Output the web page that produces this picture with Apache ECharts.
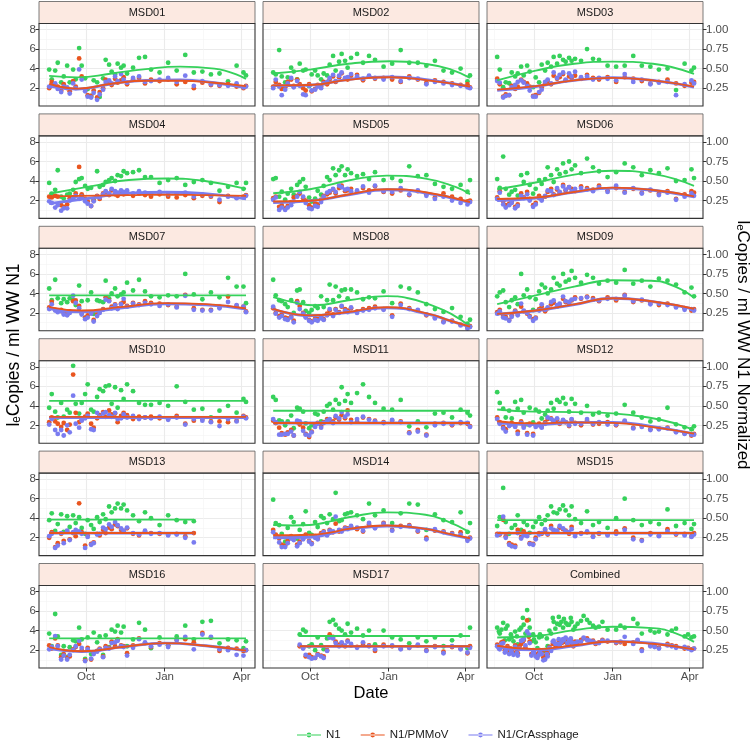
<!DOCTYPE html>
<html><head><meta charset="utf-8">
<script src="https://cdn.jsdelivr.net/npm/echarts@6/dist/echarts.min.js"></script>
<style>html,body{margin:0;padding:0;background:#fff}#c{width:756px;height:746px}</style>
</head><body><div id="c"></div><script>
// ---------------- DATA ----------------
const panelNames = ['MSD01','MSD02','MSD03','MSD04','MSD05','MSD06','MSD07','MSD08','MSD09','MSD10','MSD11','MSD12','MSD13','MSD14','MSD15','MSD16','MSD17','Combined'];
const seriesNames = ['N1','N1/PMMoV','N1/CrAssphage'];
// sample dates: days since 1 Oct 2020
const sampleDays = [-43,-40,-36,-33,-29,-26,-22,-19,-15,-12,-8,-5,-1,2,6,9,13,16,20,23,27,30,34,37,41,44,48,55,62,69,76,86,96,106,116,126,136,146,156,166,176,184,187];
const xTickDays = [0, 92, 182];
const xTickLabels = ['Oct','Jan','Apr'];
const xMinorDays = [-46, 46, 137];
const yTicks = [2,4,6,8];
const yMinorTicks = [1,3,5,7];
const y2Ticks = [0.25,0.5,0.75,1.0];

// N1 (log copies / ml)
const n1Values = [
[3.9,2.9,3.8,4.6,2.6,3.2,4.3,2.6,3.9,2.9,6.1,4.3,3.0,1.9,1.2,2.8,2.6,1.1,3.0,4.9,4.4,3.7,3.4,4.5,4.1,4.3,3.5,4.1,5.1,5.2,3.9,3.6,4.6,3.8,5.4,3.6,3.7,3.4,3.5,2.7,4.3,3.6,3.3],
[3.6,3.4,5.9,3.2,2.6,3.1,4.1,3.7,2.9,4.5,3.8,3.9,2.2,3.4,3.8,3.3,2.9,3.5,3.3,4.4,5.3,3.8,4.7,5.5,4.8,4.1,5.1,5.5,4.6,5.3,4.9,4.2,4.5,5.9,4.6,4.6,4.3,4.8,3.8,3.6,4.0,2.7,3.3],
[5.2,3.9,2.1,2.6,2.5,3.6,3.2,3.5,4.2,3.3,4.3,3.7,2.1,3.1,2.6,4.4,3.8,4.6,4.2,5.2,4.5,5.3,4.9,4.7,5.1,4.8,5.0,4.8,6.0,5.0,4.9,4.3,4.2,4.3,5.3,4.3,4.2,3.9,4.0,1.8,4.5,3.8,4.1],
[3.8,2.7,3.1,5.1,2.4,2.2,2.6,2.7,3.1,3.9,4.2,4.3,3.5,3.2,3.3,2.1,5.0,3.4,3.6,3.9,4.1,4.3,4.0,4.6,4.5,5.0,4.8,4.9,5.1,4.4,4.4,3.8,4.1,4.3,3.6,3.9,4.1,3.8,3.0,3.4,3.8,3.2,3.8],
[4.2,4.3,2.4,2.9,2.1,2.7,3.2,2.6,3.6,3.9,4.2,3.4,2.3,1.9,2.2,3.0,2.6,3.5,4.4,4.1,5.3,4.6,5.1,5.5,4.6,5.2,4.8,4.5,4.7,4.2,4.9,4.1,4.3,4.0,5.5,4.5,4.6,3.7,3.4,3.2,3.6,2.9,4.1],
[4.2,3.3,6.5,3.2,2.6,2.9,3.1,2.5,4.6,3.9,4.8,3.6,2.7,3.2,4.1,3.7,4.2,5.4,4.6,3.9,5.2,4.7,5.8,4.9,6.0,5.2,5.6,4.8,6.3,5.4,5.0,4.4,4.9,5.8,5.4,4.6,5.1,4.8,5.3,4.0,4.1,5.2,4.3],
[4.5,3.3,5.4,3.5,3.0,3.4,3.1,3.5,3.3,2.8,4.8,3.2,1.5,3.3,4.1,1.9,3.3,3.2,3.1,5.3,3.5,4.0,4.5,3.7,3.9,4.1,5.1,4.3,5.4,4.2,3.7,3.6,3.8,3.7,6.0,3.9,3.4,4.1,3.6,5.6,4.7,4.7,3.0],
[5.4,3.8,3.3,3.2,2.9,2.6,3.3,2.0,4.3,4.4,3.1,2.2,2.0,2.3,2.7,2.5,3.7,2.6,3.3,4.9,3.3,4.7,3.7,4.3,4.4,3.5,4.4,4.1,3.4,3.6,3.5,4.2,3.0,4.7,4.5,4.1,2.9,2.4,2.1,2.5,1.6,0.9,1.3],
[3.7,4.1,4.3,3.1,2.6,3.3,3.6,2.9,6.0,3.8,4.4,3.6,2.3,3.4,4.2,4.9,4.6,4.0,4.4,5.6,5.0,4.8,6.0,5.2,5.4,6.3,5.6,5.1,5.9,5.6,5.0,5.3,5.1,6.4,5.0,5.3,4.7,5.5,5.3,4.9,4.1,4.6,3.7],
[3.8,5.2,3.4,2.8,4.3,2.9,3.6,3.3,8.1,4.2,3.2,4.3,5.2,6.2,3.6,3.4,4.9,5.7,5.5,6.0,6.1,4.2,5.9,3.8,5.6,4.7,6.2,5.5,4.3,4.1,4.1,4.3,4.0,6.0,4.4,3.6,3.7,2.8,3.5,4.0,3.3,4.7,4.4],
[4.9,4.6,2.5,2.4,2.0,2.4,3.0,1.7,3.8,3.7,3.4,2.2,1.7,2.0,3.2,3.1,2.4,3.4,4.0,4.2,3.6,4.6,4.2,5.9,4.5,5.2,4.3,5.3,6.2,4.9,4.3,3.7,3.6,4.6,1.9,2.4,1.8,3.2,3.3,2.8,3.6,3.3,3.0],
[5.4,4.3,3.7,2.8,3.5,2.7,4.4,3.7,4.6,3.3,2.1,3.8,2.3,3.6,3.4,2.7,3.1,3.5,4.3,3.7,4.6,4.4,4.8,4.2,3.4,4.7,4.2,3.3,4.0,3.1,3.3,3.0,3.2,4.1,3.3,2.8,2.4,2.6,3.8,2.1,1.8,1.6,1.9],
[3.8,4.5,2.7,3.4,4.4,2.6,4.2,3.1,4.3,3.5,4.1,3.0,2.4,3.8,3.3,2.9,4.1,3.6,4.4,3.9,5.2,4.6,5.0,5.5,5.0,5.4,4.8,4.3,3.7,4.6,4.0,3.3,4.3,3.8,3.6,3.7,null,null,null,null,null,null,null],
[5.9,3.5,3.3,2.4,1.6,3.0,4.1,3.6,1.9,2.8,3.4,4.7,2.5,2.3,3.6,3.1,4.2,4.0,3.5,4.4,3.9,6.6,3.7,3.8,4.4,4.5,4.6,4.3,3.9,5.5,4.3,4.8,3.5,4.5,5.5,5.4,2.8,4.4,3.8,3.6,4.6,2.6,3.5],
[3.2,4.1,7.1,3.6,2.4,3.0,3.3,4.3,2.8,3.6,3.3,2.5,3.1,3.6,4.1,3.4,3.8,4.3,5.2,4.6,4.5,4.9,5.3,4.8,4.3,5.2,3.9,3.5,4.7,3.3,3.6,3.0,4.0,6.0,3.8,3.3,3.6,3.4,4.9,3.2,3.5,2.9,3.4],
[3.7,2.4,5.7,3.4,1.5,2.4,1.3,2.3,3.0,2.9,4.3,3.1,1.1,3.3,1.6,3.8,2.8,3.4,1.5,3.5,2.3,4.1,3.9,4.5,3.8,4.4,2.4,3.1,4.8,4.1,2.2,3.3,2.5,3.4,4.5,3.1,4.9,5.0,2.7,3.1,3.0,2.2,2.9],
[null,null,null,null,null,null,null,null,null,3.6,4.1,3.9,2.4,2.6,2.0,3.3,2.5,2.1,3.2,4.9,5.1,4.6,4.2,4.0,3.6,4.7,3.8,4.2,3.5,4.0,2.6,4.0,3.3,3.1,2.7,3.3,2.9,3.3,2.4,3.0,3.5,2.2,4.3],
[4.3,3.7,4.8,4.2,3.1,3.3,3.9,2.6,4.3,4.6,6.1,4.3,3.6,2.8,3.3,3.4,2.0,2.4,3.7,4.9,4.7,4.6,4.3,4.8,4.6,4.9,4.4,5.0,5.1,4.5,4.4,4.1,4.1,4.3,5.2,3.7,4.0,3.9,3.6,4.2,3.4,3.3,3.4]
];
// N1 / PMMoV (normalized, secondary axis)
const pmmovValues = [
[.25,.33,.29,.27,.22,.30,.25,.21,.34,.27,.63,.40,.23,.16,.15,.22,.13,.20,.25,.36,.33,.29,.37,.32,.35,.39,.30,.36,.38,.31,.36,.34,.36,.30,.33,.25,.32,.29,.28,.30,.27,.25,.28],
[.27,.33,.29,.24,.26,.33,.36,.28,.36,.30,.25,.22,.30,.21,.24,.29,.27,.33,.30,.36,.40,.33,.39,.44,.37,.36,.41,.42,.35,.40,.37,.38,.36,.33,.40,.36,.32,.35,.33,.31,.29,.30,.26],
[.37,.30,.14,.17,.16,.28,.24,.27,.36,.33,.31,.27,.15,.16,.19,.26,.31,.34,.30,.41,.37,.39,.43,.35,.40,.38,.41,.37,.42,.38,.36,.39,.33,.39,.37,.34,.31,.33,.36,.31,.28,.32,.33],
[.30,.29,.31,.30,.19,.17,.20,.28,.29,.34,.68,.33,.27,.24,.18,.25,.31,.27,.34,.36,.32,.38,.33,.31,.36,.33,.35,.31,.34,.32,.30,.33,.30,.29,.32,.28,.31,.30,.23,.31,.29,.30,.32],
[.28,.30,.17,.19,.15,.18,.23,.29,.31,.34,.28,.25,.19,.16,.21,.20,.26,.31,.33,.35,.39,.34,.41,.44,.37,.38,.40,.36,.41,.38,.43,.36,.34,.38,.32,.37,.33,.29,.34,.30,.27,.24,.25],
[.29,.37,.24,.19,.21,.23,.17,.20,.34,.29,.36,.27,.19,.22,.31,.27,.30,.36,.40,.33,.39,.35,.45,.38,.42,.40,.37,.43,.41,.39,.44,.38,.41,.36,.40,.35,.38,.34,.37,.27,.33,.37,.35],
[.32,.39,.29,.28,.29,.25,.23,.27,.40,.41,.34,.25,.19,.22,.25,.16,.23,.27,.30,.45,.41,.33,.36,.31,.37,.39,.34,.38,.36,.40,.38,.37,.35,.33,.48,.31,.29,.29,.33,.46,.34,.33,.27],
[.31,.25,.21,.23,.19,.18,.20,.15,.40,.34,.25,.20,.16,.14,.18,.17,.20,.17,.24,.28,.23,.30,.26,.33,.30,.28,.31,.27,.30,.31,.33,.30,.22,.37,.31,.28,.22,.19,.14,.15,.10,.06,.08],
[.26,.29,.21,.20,.16,.22,.28,.24,.33,.27,.24,.21,.17,.19,.30,.33,.27,.31,.36,.38,.33,.35,.43,.39,.37,.41,.45,.43,.46,.44,.40,.45,.41,.48,.39,.41,.38,.35,.37,.33,.31,.28,.30],
[.29,.35,.30,.27,.23,.28,.19,.26,.90,.41,.29,.32,.36,.40,.27,.22,.34,.38,.42,.36,.44,.39,.40,.29,.37,.41,.38,.33,.36,.35,.36,.34,.33,.37,.27,.31,.33,.30,.30,.29,.31,.37,.35],
[.31,.28,.22,.15,.13,.16,.19,.12,.29,.26,.22,.14,.10,.17,.26,.28,.24,.29,.33,.31,.30,.35,.32,.38,.34,.44,.32,.30,.35,.33,.31,.29,.31,.30,.16,.19,.13,.27,.28,.25,.28,.27,.24],
[.35,.29,.23,.20,.26,.28,.24,.17,.30,.24,.15,.27,.14,.25,.27,.23,.29,.33,.34,.30,.32,.27,.31,.29,.24,.32,.28,.25,.31,.26,.27,.29,.25,.30,.22,.24,.20,.21,.22,.17,.15,.12,.14],
[.25,.32,.13,.18,.30,.21,.33,.23,.31,.27,.69,.32,.15,.28,.17,.19,.30,.28,.35,.31,.38,.36,.42,.40,.35,.33,.37,.30,.28,.33,.31,.30,.29,.30,.27,.31,null,null,null,null,null,null,null],
[.35,.29,.24,.16,.15,.21,.27,.24,.16,.20,.25,.29,.21,.18,.27,.24,.31,.33,.29,.35,.32,.43,.33,.34,.38,.37,.39,.36,.33,.42,.38,.44,.35,.40,.41,.33,.25,.34,.33,.31,.32,.23,.25],
[.30,.29,.48,.27,.18,.16,.15,.35,.26,.33,.29,.18,.17,.25,.31,.30,.34,.29,.40,.34,.33,.38,.36,.34,.30,.39,.29,.31,.32,.27,.30,.29,.33,.37,.25,.22,.31,.28,.36,.29,.30,.27,.31],
[.31,.27,.40,.31,.16,.20,.15,.17,.26,.29,.33,.25,.12,.28,.13,.22,.24,.27,.17,.30,.28,.36,.30,.39,.31,.30,.21,.31,.40,.34,.29,.34,.31,.38,.39,.35,.47,.41,.24,.28,.27,.24,.25],
[null,null,null,null,null,null,null,null,null,.30,.28,.17,.19,.16,.15,.20,.18,.17,.25,.45,.42,.36,.32,.34,.30,.37,.31,.29,.33,.31,.24,.32,.30,.27,.28,.31,.25,.30,.23,.29,.27,.21,.30],
[.32,.28,.36,.27,.23,.25,.31,.21,.33,.38,.63,.36,.25,.20,.22,.23,.18,.20,.26,.34,.31,.33,.35,.39,.37,.34,.36,.38,.40,.37,.35,.36,.34,.33,.35,.26,.31,.28,.33,.30,.27,.26,.27]
];
// N1 / CrAssphage (normalized, secondary axis)
const crassValues = [
[.27,.28,.31,.24,.20,.27,.26,.18,.31,.25,.49,.36,.21,.14,.13,.19,.10,.17,.23,.33,.35,.31,.40,.34,.43,.36,.32,.38,.40,.33,.34,.36,.38,.33,.41,.28,.34,.30,.29,.28,.31,.26,.27],
[.25,.36,.27,.16,.23,.31,.38,.26,.34,.28,.17,.16,.28,.22,.23,.27,.25,.31,.33,.38,.42,.34,.41,.45,.38,.39,.43,.40,.37,.41,.38,.36,.39,.34,.38,.37,.30,.33,.31,.29,.28,.26,.25],
[.34,.32,.13,.15,.16,.26,.29,.33,.35,.32,.28,.22,.14,.14,.20,.23,.33,.36,.31,.45,.38,.42,.45,.36,.44,.40,.46,.39,.40,.36,.38,.37,.35,.43,.33,.36,.30,.32,.33,.16,.30,.35,.31],
[.24,.22,.16,.19,.12,.15,.15,.25,.28,.31,.27,.30,.24,.21,.18,.24,.30,.29,.33,.37,.34,.40,.37,.35,.38,.36,.38,.34,.37,.35,.34,.36,.33,.34,.35,.30,.33,.31,.26,.30,.28,.29,.31],
[.26,.29,.13,.16,.13,.16,.19,.24,.30,.36,.30,.22,.15,.14,.18,.17,.23,.30,.35,.37,.40,.36,.44,.42,.39,.40,.37,.38,.43,.35,.44,.37,.36,.41,.33,.38,.31,.27,.30,.25,.22,.20,.23],
[.27,.35,.20,.16,.19,.22,.15,.18,.31,.28,.33,.25,.17,.20,.28,.25,.31,.38,.37,.32,.41,.36,.43,.39,.42,.37,.40,.41,.39,.37,.42,.36,.44,.35,.41,.34,.39,.32,.35,.26,.30,.34,.31],
[.30,.36,.28,.26,.27,.23,.22,.25,.47,.38,.31,.23,.17,.19,.24,.14,.21,.25,.29,.42,.40,.31,.35,.30,.36,.43,.33,.37,.35,.38,.36,.34,.36,.32,.47,.29,.28,.28,.31,.39,.35,.33,.26],
[.33,.24,.19,.21,.17,.16,.19,.13,.38,.30,.24,.19,.15,.13,.16,.15,.18,.16,.22,.30,.21,.29,.25,.34,.28,.26,.32,.25,.28,.29,.31,.29,.20,.35,.30,.29,.23,.18,.13,.14,.09,.05,.07],
[.24,.27,.19,.18,.15,.20,.27,.22,.37,.28,.25,.20,.15,.18,.28,.36,.29,.32,.39,.41,.35,.37,.46,.40,.39,.42,.43,.44,.45,.42,.41,.43,.43,.47,.40,.42,.36,.37,.35,.32,.29,.30,.28],
[.26,.33,.19,.14,.19,.12,.25,.16,.63,.27,.22,.31,.34,.37,.20,.19,.41,.36,.40,.42,.38,.36,.41,.33,.34,.39,.35,.37,.33,.35,.34,.36,.32,.35,.26,.33,.31,.29,.24,.33,.30,.36,.34],
[.33,.29,.13,.13,.14,.14,.17,.12,.31,.30,.18,.13,.12,.16,.23,.27,.22,.28,.31,.33,.28,.37,.34,.42,.36,.39,.29,.33,.36,.32,.30,.28,.32,.29,.15,.17,.12,.25,.27,.26,.29,.28,.23],
[.33,.27,.21,.17,.24,.26,.23,.14,.28,.22,.13,.25,.12,.23,.25,.22,.27,.35,.33,.31,.34,.28,.32,.29,.25,.33,.27,.27,.33,.27,.29,.26,.26,.31,.21,.23,.19,.20,.21,.16,.14,.13,.13],
[.27,.30,.12,.15,.31,.18,.34,.22,.32,.35,.33,.30,.12,.26,.16,.18,.29,.30,.38,.36,.42,.39,.45,.41,.37,.34,.38,.31,.29,.34,.30,.31,.28,.29,.25,.19,null,null,null,null,null,null,null],
[.32,.26,.19,.13,.13,.18,.24,.22,.14,.18,.23,.27,.20,.17,.25,.23,.29,.32,.28,.34,.33,.52,.35,.33,.37,.36,.40,.38,.34,.44,.37,.43,.34,.39,.40,.34,.23,.36,.32,.30,.29,.21,.24],
[.28,.30,.52,.25,.16,.14,.13,.31,.24,.28,.27,.17,.16,.23,.29,.31,.36,.30,.37,.35,.34,.40,.37,.33,.32,.36,.27,.30,.33,.26,.31,.28,.30,.35,.23,.21,.29,.27,.33,.30,.28,.26,.29],
[.26,.29,.43,.30,.13,.18,.13,.19,.25,.30,.37,.28,.11,.26,.14,.20,.23,.26,.16,.28,.27,.34,.35,.37,.30,.29,.18,.28,.39,.35,.30,.32,.29,.38,.42,.26,.45,.42,.26,.25,.19,.18,.25],
[null,null,null,null,null,null,null,null,null,.32,.27,.19,.16,.14,.15,.19,.17,.15,.24,.41,.40,.34,.30,.35,.31,.36,.33,.28,.35,.30,.26,.30,.31,.26,.28,.32,.24,.29,.21,.30,.26,.22,.28],
[.30,.26,.34,.24,.20,.22,.29,.18,.37,.40,.49,.34,.22,.17,.19,.20,.13,.17,.24,.37,.33,.32,.39,.41,.38,.35,.34,.36,.38,.36,.34,.37,.35,.42,.33,.24,.30,.27,.31,.28,.29,.25,.27]
];
// extra sampling dates that only appear in the Combined panel
const combinedExtraDays = [-41,-38,-34,-31,-27,-24,-20,-17,-13,-10,-6,-3,0,4,7,11,15,18,22,25,29,32,35,39,43,46,51,58,65,72,80,101,121,141,161,180];
const combinedExtraN1 = [3.9,4.1,3.0,4.5,3.6,2.9,3.4,4.1,5.3,3.7,5.1,2.9,3.1,2.2,3.6,1.9,3.2,4.0,5.3,4.2,5.4,4.9,5.2,4.6,5.3,4.1,4.7,5.5,4.8,4.3,4.9,4.5,4.7,3.8,4.0,3.6];
const combinedExtraPmmov = [.29,.35,.25,.30,.27,.21,.24,.30,.36,.28,.42,.20,.24,.17,.25,.16,.22,.29,.33,.31,.37,.34,.36,.33,.38,.30,.35,.40,.36,.33,.38,.35,.37,.30,.31,.28];
const combinedExtraCrass = [.27,.33,.22,.28,.25,.19,.21,.27,.38,.31,.45,.18,.22,.15,.23,.12,.20,.28,.36,.33,.39,.35,.38,.34,.40,.31,.36,.41,.37,.34,.37,.36,.38,.29,.30,.27];

// smoothed fits: [day, value]
const n1Fit = [
[[-43,3.25],[-10,3.1],[30,3.5],[70,3.95],[110,4.2],[150,4.0],[187,2.95]],
[[-43,3.5],[0,3.9],[45,4.5],[93,4.75],[138,4.45],[165,3.9],[187,3.05]],
[[-43,2.8],[2,3.8],[47,4.5],[92,4.72],[139,4.5],[187,3.45]],
[[-43,2.7],[5,3.45],[50,4.1],[94,4.25],[139,4.0],[187,3.2]],
[[-43,2.75],[0,3.15],[45,4.05],[90,4.55],[135,4.25],[170,3.4],[187,2.65]],
[[-43,3.15],[2,3.85],[47,4.65],[92,5.05],[137,4.75],[187,3.5]],
[[-43,3.8],[187,3.8]],
[[-43,3.62],[-15,3.0],[5,2.78],[45,3.3],[90,3.72],[115,3.5],[140,2.85],[165,1.9],[187,0.6]],
[[-43,2.9],[2,3.8],[47,4.7],[92,5.35],[137,5.3],[165,4.7],[187,3.55]],
[[-43,4.5],[187,4.5]],
[[-43,3.5],[187,3.5]],
[[-43,3.62],[0,3.4],[47,3.35],[92,3.22],[137,2.75],[165,2.2],[187,1.5]],
[[-43,3.85],[126,3.85]],
[[-43,3.3],[-20,3.25],[0,3.3],[25,3.7],[45,4.1],[90,4.6],[135,4.35],[160,3.7],[187,2.55]],
[[-43,3.8],[187,3.8]],
[[-43,3.2],[187,3.2]],
[[-12,3.45],[187,3.45]],
[[-43,3.3],[2,3.45],[47,4.05],[92,4.4],[139,4.25],[165,3.75],[187,2.85]]
];
const pmmovFit = [
[[-43,.306],[-10,.244],[30,.306],[70,.344],[110,.344],[150,.319],[187,.275]],
[[-43,.285],[0,.291],[45,.356],[93,.39],[138,.35],[187,.271]],
[[-43,.231],[2,.275],[47,.35],[92,.381],[139,.35],[187,.269]],
[[-43,.303],[50,.319],[94,.325],[139,.319],[187,.31]],
[[-43,.238],[0,.248],[45,.328],[90,.394],[135,.356],[187,.231]],
[[-43,.269],[2,.288],[47,.359],[92,.415],[137,.388],[187,.303]],
[[-43,.325],[-5,.281],[40,.325],[92,.375],[140,.363],[187,.306]],
[[-43,.303],[0,.219],[40,.256],[90,.323],[139,.238],[164,.15],[187,.075]],
[[-43,.238],[2,.281],[47,.36],[92,.438],[137,.4],[187,.303]],
[[-43,.358],[187,.358]],
[[-43,.28],[187,.28]],
[[-43,.303],[0,.275],[47,.288],[92,.281],[137,.231],[187,.144]],
[[-43,.31],[126,.31]],
[[-43,.281],[0,.288],[25,.319],[45,.363],[90,.406],[135,.363],[160,.306],[187,.244]],
[[-43,.31],[187,.31]],
[[-43,.288],[-5,.235],[45,.294],[92,.34],[140,.306],[187,.244]],
[[-12,.3],[187,.3]],
[[-43,.306],[2,.263],[47,.313],[92,.36],[139,.331],[187,.26]]
];
const crassFit = [
[[-43,.275],[-10,.238],[30,.306],[70,.35],[110,.356],[150,.319],[187,.256]],
[[-43,.281],[0,.288],[45,.363],[93,.394],[138,.356],[187,.265]],
[[-43,.22],[2,.271],[47,.349],[92,.384],[139,.349],[187,.263]],
[[-43,.21],[5,.281],[50,.344],[94,.356],[139,.338],[187,.271]],
[[-43,.225],[0,.245],[45,.323],[90,.388],[135,.348],[187,.223]],
[[-43,.25],[2,.28],[47,.358],[92,.41],[137,.385],[187,.298]],
[[-43,.306],[-5,.263],[40,.313],[92,.365],[140,.353],[187,.298]],
[[-43,.3],[0,.215],[40,.25],[90,.315],[139,.233],[164,.148],[187,.072]],
[[-43,.235],[2,.278],[47,.356],[92,.438],[137,.398],[187,.3]],
[[-43,.349],[187,.349]],
[[-43,.28],[187,.28]],
[[-43,.281],[0,.26],[47,.285],[92,.288],[137,.238],[187,.14]],
[[-43,.31],[126,.31]],
[[-43,.25],[0,.256],[25,.306],[45,.356],[90,.4],[135,.363],[160,.3],[187,.24]],
[[-43,.31],[187,.31]],
[[-43,.269],[-5,.231],[45,.294],[92,.34],[140,.306],[187,.24]],
[[-12,.298],[187,.298]],
[[-43,.288],[2,.253],[47,.306],[92,.363],[139,.338],[187,.253]]
];

// ---------------- LAYOUT / STYLE ----------------
const COLORS = ['#36D15B', '#E9551F', '#7A7CF0'];
const FONT = '"Liberation Sans", Arial, Helvetica, sans-serif';
const LEFTS = [39, 263, 487], PW = 216, TOP0 = 23.5, PITCH = 112.4, PH = 82.5, STRIP = 22;
const X_MIN = -54.9, X_MAX = 197.5, Y_MIN = 0.17, Y_MAX = 8.62, Y2_FACTOR = 8;
const MAJOR = {color:'#EBEBEB', width:1.1}, MINOR = {color:'#F3F3F3', width:0.6};
const TICKSTYLE = {color:'#333', width:1};
const LABEL = {fontSize:11.5, color:'#4D4D4D', fontFamily:FONT};
const NOLINE = {show:false, onZero:false};

const grids = [], xAxes = [], yAxes = [], series = [], graphics = [];
const valueSets = [n1Values, pmmovValues, crassValues];
const extraSets = [combinedExtraN1, combinedExtraPmmov, combinedExtraCrass];
const fitSets = [n1Fit, pmmovFit, crassFit];

panelNames.forEach((name, i) => {
  const r = Math.floor(i / 3), c = i % 3;
  const left = LEFTS[c], top = TOP0 + PITCH * r;
  const bottomRow = (r === 5);
  grids.push({left: left, top: top, width: PW, height: PH, show: true, backgroundColor:'#fff', borderWidth:0});
  xAxes.push({gridIndex:i, type:'value', position:'bottom', min:X_MIN, max:X_MAX, axisLine:NOLINE,
    axisTick:{show:bottomRow, customValues:xTickDays, length:3.5, lineStyle:TICKSTYLE},
    axisLabel:{show:bottomRow, customValues:xTickDays, margin:3,
      formatter: v => { let k = 0; xTickDays.forEach((d, j) => { if (Math.abs(d - v) < Math.abs(xTickDays[k] - v)) k = j; }); return xTickLabels[k]; },
      ...LABEL},
    splitLine:{show:true, lineStyle:MAJOR}});
  xAxes.push({gridIndex:i, type:'value', position:'top', min:X_MIN, max:X_MAX, axisLine:NOLINE,
    axisTick:{show:false, customValues:xMinorDays}, axisLabel:{show:false, customValues:xMinorDays},
    splitLine:{show:true, lineStyle:MINOR}});
  yAxes.push({gridIndex:i, type:'value', position:'left', min:Y_MIN, max:Y_MAX, axisLine:NOLINE,
    axisTick:{show:c === 0, customValues:yTicks, length:3.5, lineStyle:TICKSTYLE},
    axisLabel:{show:c === 0, customValues:yTicks, margin:3, ...LABEL},
    splitLine:{show:true, lineStyle:MAJOR}});
  yAxes.push({gridIndex:i, type:'value', position:'right', min:Y_MIN, max:Y_MAX, axisLine:NOLINE,
    axisTick:{show:false, customValues:yMinorTicks}, axisLabel:{show:false, customValues:yMinorTicks},
    splitLine:{show:true, lineStyle:MINOR}});
  yAxes.push({gridIndex:i, type:'value', position:'right', min:Y_MIN / Y2_FACTOR, max:Y_MAX / Y2_FACTOR, axisLine:NOLINE,
    axisTick:{show:c === 2, customValues:y2Ticks, length:3.5, lineStyle:TICKSTYLE},
    axisLabel:{show:c === 2, customValues:y2Ticks, margin:3, formatter: v => v.toFixed(2), ...LABEL},
    splitLine:{show:false}});

  // points
  [0, 1, 2].forEach(s => {
    const vals = valueSets[s][i];
    const data = [];
    sampleDays.forEach((d, k) => { if (vals[k] !== null && vals[k] !== undefined) data.push([d, vals[k]]); });
    if (name === 'Combined') combinedExtraDays.forEach((d, k) => data.push([d, extraSets[s][k]]));
    series.push({type:'scatter', name:seriesNames[s], xAxisIndex:2 * i, yAxisIndex: s === 0 ? 3 * i : 3 * i + 2,
      data: data, symbolSize:4.8, itemStyle:{color:COLORS[s], opacity:1}, z:2, silent:true, animation:false});
  });
  // fitted lines
  [0, 2, 1].forEach(s => {
    series.push({type:'line', name:seriesNames[s], xAxisIndex:2 * i, yAxisIndex: s === 0 ? 3 * i : 3 * i + 2,
      data: fitSets[s][i], smooth:0.5, showSymbol:false, symbol:'none',
      lineStyle:{color:COLORS[s], width: s === 2 ? 2.8 : 1.9}, itemStyle:{color:COLORS[s]}, z:3, silent:true, animation:false});
  });

  // strip + border
  graphics.push({type:'rect', silent:true, z:100, shape:{x:left, y:top - STRIP, width:PW, height:STRIP},
    style:{fill:'#FCE9E1', stroke:'#5a5a5a', lineWidth:0.8}});
  graphics.push({type:'text', silent:true, z:101, x:left + PW / 2, y:top - STRIP / 2,
    style:{text:name, fill:'#1A1A1A', fontSize:11, fontFamily:FONT, align:'center', verticalAlign:'middle', textAlign:'center', textVerticalAlign:'middle'}});
  graphics.push({type:'rect', silent:true, z:100, shape:{x:left, y:top, width:PW, height:PH},
    style:{fill:'none', stroke:'#333', lineWidth:1.1}});
});

// axis titles
graphics.push({type:'text', silent:true, z:101, x:14, y:345, rotation:Math.PI / 2,
  style:{text:'lₑCopies / ml WW N1', fill:'#000', fontSize:17.5, fontFamily:FONT, align:'center', verticalAlign:'middle', textAlign:'center', textVerticalAlign:'middle'}});
graphics.push({type:'text', silent:true, z:101, x:743, y:345, rotation:-Math.PI / 2,
  style:{text:'lₑCopies / ml WW N1 Normalized', fill:'#000', fontSize:17, fontFamily:FONT, align:'center', verticalAlign:'middle', textAlign:'center', textVerticalAlign:'middle'}});
graphics.push({type:'text', silent:true, z:101, x:371, y:693,
  style:{text:'Date', fill:'#000', fontSize:16.5, fontFamily:FONT, align:'center', verticalAlign:'middle', textAlign:'center', textVerticalAlign:'middle'}});

const LEGEND_ICON = 'path://M0,3.4L24,3.4L24,4.6L0,4.6Z M9.6,4A2.4,2.4,0,1,0,14.4,4A2.4,2.4,0,1,0,9.6,4Z';

const chart = echarts.init(document.getElementById('c'), null, {renderer:'canvas'});
chart.setOption({
  animation:false,
  backgroundColor:'#fff',
  textStyle:{fontFamily:FONT},
  grid:grids, xAxis:xAxes, yAxis:yAxes, series:series,
  legend:{left:292, top:724, itemWidth:24, itemHeight:8, itemGap:20, selectedMode:false,
    textStyle:{fontSize:11.5, color:'#1A1A1A', fontFamily:FONT},
    data: seriesNames.map(n => ({name:n, icon:LEGEND_ICON}))},
  graphic:graphics
});
</script></body></html>
